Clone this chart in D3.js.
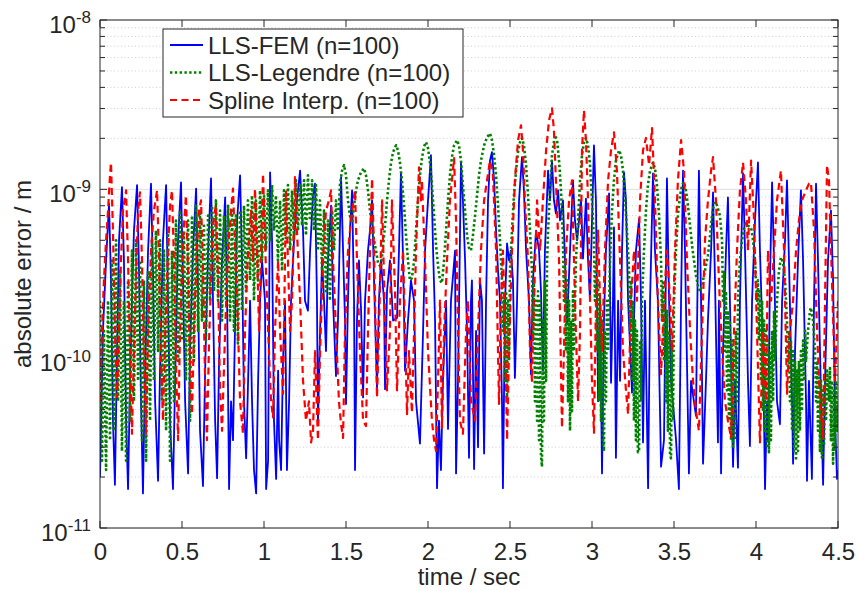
<!DOCTYPE html>
<html><head><meta charset="utf-8">
<script src="https://cdn.jsdelivr.net/npm/d3@7/dist/d3.min.js"></script>
<style>
html,body{margin:0;padding:0;background:#fff;}
text{font-family:"Liberation Sans",Arial,Helvetica,sans-serif;fill:#262626;}
</style></head>
<body><svg id="chart" width="858" height="591"></svg>
<script>
// ---- DATA (time in s, error in units of 1e-10 m) ----
const UNIT = 1e-10;
const seriesNames = ["LLS-FEM (n=100)", "LLS-Legendre (n=100)", "Spline Interp. (n=100)"];
const xTicks = [0, 0.5, 1, 1.5, 2, 2.5, 3, 3.5, 4, 4.5];
const xTickLabels = ["0", "0.5", "1", "1.5", "2", "2.5", "3", "3.5", "4", "4.5"];
const yTicks = [1e-11, 1e-10, 1e-9, 1e-8];
const yTickExponents = ["-11", "-10", "-9", "-8"];

const femData = [
[0,0.2],[0.018,1.46],[0.037,3.8],[0.055,8.25],[0.067,2.9],[0.079,0.43],[0.091,0.18],[0.104,1.11],[0.116,5.0],[0.134,10.3],
[0.146,3.8],[0.159,0.43],[0.171,0.17],[0.183,0.74],[0.195,2.2],[0.207,5.7],[0.226,10.6],[0.238,3.3],[0.250,0.56],[0.262,0.16],
[0.274,0.74],[0.293,4.35],[0.311,10.8],[0.323,3.3],[0.336,0.56],[0.354,0.19],[0.366,0.85],[0.384,5.0],[0.403,10.6],[0.415,2.2],
[0.427,0.43],[0.445,0.17],[0.458,0.74],[0.476,5.0],[0.494,11.0],[0.506,2.9],[0.519,0.56],[0.537,0.21],[0.549,1.11],[0.567,4.35],
[0.586,10.1],[0.598,2.5],[0.610,0.375],[0.628,0.177],[0.641,0.85],[0.659,4.35],[0.677,11.6],[0.689,2.2],[0.702,0.43],[0.714,0.197],
[0.726,0.97],[0.744,3.8],[0.763,8.95],[0.775,2.2],[0.787,0.17],[0.799,0.56],[0.811,0.33],[0.824,1.68],[0.836,6.55],[0.854,12.1],
[0.866,3.8],[0.878,0.56],[0.891,0.258],[0.903,0.74],[0.915,2.2],[0.927,0.56],[0.939,0.22],[0.952,0.16],[0.964,0.74],[0.976,2.2],
[0.988,3.8],[1.006,2.2],[1.013,0.17],[1.025,0.25],[1.037,12.6],[1.049,5.0],[1.061,0.43],[1.074,0.195],[1.086,0.85],[1.092,0.33],
[1.104,0.22],[1.116,0.97],[1.128,2.2],[1.140,0.22],[1.153,0.56],[1.165,2.2],[1.183,5.0],[1.201,8.6],[1.220,12.9],[1.238,5.7],
[1.250,2.2],[1.268,1.92],[1.281,4.35],[1.299,9.2],[1.311,10.8],[1.323,2.2],[1.329,0.42],[1.342,1.46],[1.354,3.8],[1.366,2.2],
[1.378,1.11],[1.390,3.8],[1.409,8.0],[1.421,2.2],[1.439,0.79],[1.451,1.68],[1.470,11.8],[1.482,4.35],[1.494,1.68],[1.500,0.54],
[1.512,2.2],[1.524,5.7],[1.537,9.86],[1.549,2.2],[1.555,0.22],[1.567,1.68],[1.579,3.8],[1.592,1.92],[1.604,0.59],[1.616,2.2],
[1.634,4.35],[1.646,5.7],[1.659,8.6],[1.671,2.9],[1.689,0.67],[1.701,2.2],[1.713,3.8],[1.732,2.2],[1.738,0.66],[1.750,2.5],
[1.768,3.8],[1.787,1.68],[1.811,1.74],[1.823,4.35],[1.835,12.6],[1.848,3.8],[1.860,0.85],[1.878,1.68],[1.896,2.9],[1.915,2.2],
[1.927,0.56],[1.951,0.315],[1.970,1.46],[1.982,4.35],[2.000,8.6],[2.018,15.9],[2.031,4.35],[2.043,1.68],[2.055,0.172],[2.067,0.43],
[2.079,0.22],[2.091,0.74],[2.110,2.2],[2.122,0.385],[2.140,2.2],[2.165,4.35],[2.171,0.21],[2.183,0.74],[2.201,14.4],[2.213,8.6],
[2.226,3.8],[2.238,1.46],[2.250,0.26],[2.262,2.2],[2.268,2.9],[2.281,0.223],[2.293,1.46],[2.305,0.3],[2.317,2.9],[2.329,2.2],
[2.342,0.275],[2.354,2.2],[2.366,8.6],[2.378,14.8],[2.390,16.6],[2.403,11.3],[2.415,5.7],[2.427,3.3],[2.439,2.2],[2.451,0.56],
[2.457,0.172],[2.470,2.2],[2.482,4.8],[2.494,3.8],[2.506,4.35],[2.518,2.9],[2.530,0.77],[2.543,2.2],[2.555,8.6],[2.573,15.5],
[2.585,9.86],[2.598,4.35],[2.616,2.2],[2.628,0.81],[2.640,2.9],[2.659,5.7],[2.677,4.35],[2.689,2.5],[2.701,0.85],[2.713,4.35],
[2.732,12.9],[2.744,8.6],[2.756,14.8],[2.768,8.6],[2.780,7.2],[2.793,9.86],[2.805,6.55],[2.823,8.6],[2.848,1.61],[2.866,4.35],
[2.884,11.3],[2.896,6.55],[2.909,5.0],[2.933,8.6],[2.945,3.9],[2.963,8.8],[2.976,3.8],[2.988,2.2],[3.000,6.55],[3.012,18.2],
[3.024,8.6],[3.037,0.56],[3.049,2.2],[3.061,0.21],[3.073,1.68],[3.085,4.35],[3.104,9.45],[3.116,0.72],[3.128,2.2],[3.134,5.95],
[3.146,0.26],[3.159,2.2],[3.171,0.74],[3.183,4.35],[3.195,12.6],[3.207,8.6],[3.220,2.2],[3.244,0.63],[3.256,1.68],[3.268,4.35],
[3.287,6.7],[3.299,2.2],[3.311,0.32],[3.323,2.2],[3.342,0.172],[3.354,2.2],[3.372,12.4],[3.384,4.35],[3.402,2.2],[3.421,0.23],
[3.439,0.33],[3.457,11.6],[3.470,2.2],[3.482,0.74],[3.512,0.335],[3.530,0.17],[3.543,2.2],[3.555,12.9],[3.567,4.35],[3.591,0.21],
[3.604,0.74],[3.634,0.46],[3.652,12.9],[3.665,2.2],[3.677,0.24],[3.695,0.74],[3.707,1.68],[3.726,4.35],[3.738,9.6],[3.750,2.9],
[3.768,0.32],[3.774,2.2],[3.787,0.21],[3.799,1.11],[3.817,4.35],[3.829,8.95],[3.841,2.2],[3.860,0.23],[3.872,0.74],[3.890,0.227],
[3.902,2.2],[3.921,12.4],[3.933,4.35],[3.951,0.74],[3.963,0.305],[3.976,2.2],[3.994,6.55],[4.012,14.4],[4.024,4.35],[4.043,1.11],
[4.055,0.17],[4.067,0.56],[4.073,0.33],[4.085,2.9],[4.098,11.0],[4.110,3.8],[4.128,0.56],[4.146,0.41],[4.159,2.2],[4.177,5.0],
[4.189,11.3],[4.201,3.8],[4.220,0.56],[4.226,0.24],[4.238,1.11],[4.256,3.8],[4.274,9.86],[4.287,3.8],[4.305,0.56],[4.311,0.19],
[4.323,0.74],[4.341,0.195],[4.354,2.2],[4.366,10.8],[4.378,3.8],[4.397,0.56],[4.409,0.18],[4.421,0.74],[4.439,3.8],[4.457,7.5],
[4.470,2.9],[4.482,0.43],[4.494,0.195],[4.5,0.22]
];

const legendreData = [
[0,2.2],[0.012,0.25],[0.024,1.46],[0.037,0.22],[0.049,2.2],[0.061,0.33],[0.073,3.8],[0.085,0.375],[0.098,5.0],[0.110,0.56],
[0.122,3.3],[0.134,0.285],[0.146,2.2],[0.159,0.25],[0.171,2.9],[0.183,0.43],[0.195,4.35],[0.207,0.56],[0.220,5.0],[0.232,0.74],
[0.244,3.8],[0.256,0.33],[0.268,2.9],[0.281,0.25],[0.293,3.3],[0.305,0.43],[0.317,5.0],[0.329,0.74],[0.341,5.7],[0.354,1.11],
[0.366,5.0],[0.378,0.56],[0.390,4.35],[0.403,0.375],[0.415,5.7],[0.427,0.25],[0.439,4.35],[0.451,0.56],[0.463,6.55],[0.476,0.97],
[0.488,7.5],[0.500,1.28],[0.512,5.7],[0.524,0.74],[0.537,6.55],[0.549,0.43],[0.561,7.0],[0.573,0.97],[0.585,8.0],[0.598,1.46],
[0.610,7.5],[0.622,1.68],[0.634,6.1],[0.646,1.28],[0.659,7.0],[0.671,2.2],[0.683,8.0],[0.695,2.5],[0.707,8.6],[0.720,2.2],
[0.732,7.5],[0.744,1.68],[0.756,7.0],[0.768,2.2],[0.781,8.0],[0.793,1.68],[0.805,7.5],[0.817,1.46],[0.829,7.0],[0.841,1.23],
[0.854,7.5],[0.866,1.92],[0.878,8.0],[0.890,2.5],[0.902,8.6],[0.915,2.9],[0.927,9.2],[0.939,2.2],[0.951,8.6],[0.963,2.9],
[0.976,9.86],[0.988,3.8],[1.000,9.2],[1.012,4.35],[1.024,9.86],[1.037,5.0],[1.049,10.6],[1.061,5.7],[1.073,9.2],[1.085,3.8],
[1.098,8.6],[1.110,3.3],[1.122,9.86],[1.134,5.0],[1.146,10.6],[1.159,4.35],[1.171,9.86],[1.183,5.0],[1.195,11.3],[1.207,5.7],
[1.220,10.6],[1.232,6.1],[1.244,11.3],[1.256,5.35],[1.268,12.1],[1.280,6.55],[1.293,11.3],[1.305,5.7],[1.317,10.6],[1.329,4.35],
[1.341,8.6],[1.354,3.3],[1.366,7.5],[1.378,2.5],[1.390,6.55],[1.402,2.2],[1.415,7.5],[1.427,4.35],[1.439,8.6],[1.451,5.7],
[1.463,10.6],[1.476,12.9],[1.488,13.9],[1.500,12.1],[1.512,8.6],[1.524,7.0],[1.537,6.3],[1.549,8.0],[1.561,9.86],[1.573,11.3],
[1.591,12.6],[1.610,13.3],[1.622,12.1],[1.634,9.86],[1.646,7.5],[1.659,6.1],[1.671,5.0],[1.683,4.35],[1.695,3.7],[1.713,3.45],
[1.726,4.67],[1.738,6.1],[1.750,8.6],[1.762,11.3],[1.774,14.2],[1.787,16.6],[1.805,18.2],[1.817,17.0],[1.829,14.4],[1.841,11.3],
[1.854,8.0],[1.866,5.35],[1.878,3.8],[1.890,2.9],[1.902,3.0],[1.915,3.8],[1.927,5.7],[1.939,8.6],[1.951,12.1],[1.963,15.3],
[1.976,17.9],[1.988,19.0],[2.000,17.5],[2.012,14.4],[2.024,10.6],[2.037,7.0],[2.049,4.67],[2.061,3.55],[2.073,2.9],[2.085,2.8],
[2.098,3.8],[2.110,5.7],[2.122,8.6],[2.134,12.1],[2.146,15.5],[2.159,18.2],[2.177,19.5],[2.189,18.2],[2.201,14.8],[2.213,10.6],
[2.226,7.5],[2.238,5.35],[2.250,4.5],[2.262,4.35],[2.274,5.35],[2.287,7.0],[2.299,9.2],[2.311,12.1],[2.323,14.8],[2.342,18.2],
[2.360,20.3],[2.378,21.4],[2.390,19.5],[2.403,15.9],[2.415,12.1],[2.427,8.0],[2.439,5.0],[2.451,2.9],[2.457,1.46],[2.463,2.2],
[2.470,0.74],[2.476,2.5],[2.482,0.59],[2.488,2.2],[2.494,0.97],[2.500,3.3],[2.512,5.7],[2.524,9.2],[2.537,12.9],[2.549,16.6],
[2.561,19.0],[2.573,20.1],[2.585,18.2],[2.598,13.9],[2.610,9.2],[2.622,5.7],[2.634,3.3],[2.640,1.28],[2.646,2.9],[2.652,0.56],
[2.659,2.2],[2.665,0.43],[2.671,2.5],[2.677,0.33],[2.683,2.2],[2.689,0.27],[2.695,0.23],[2.701,1.68],[2.707,0.43],[2.713,2.9],
[2.720,0.74],[2.726,3.8],[2.732,5.7],[2.744,9.86],[2.756,15.9],[2.774,20.9],[2.787,19.5],[2.799,14.8],[2.811,9.86],[2.823,5.0],
[2.829,2.2],[2.835,3.8],[2.841,1.11],[2.848,2.9],[2.854,0.56],[2.860,2.2],[2.866,0.375],[2.872,1.68],[2.878,0.49],[2.884,2.5],
[2.890,1.11],[2.902,3.8],[2.915,6.55],[2.927,11.3],[2.939,15.9],[2.951,19.0],[2.963,20.1],[2.976,18.2],[2.988,13.9],[3.000,8.6],
[3.012,5.0],[3.018,2.2],[3.024,3.8],[3.030,1.11],[3.037,2.9],[3.043,0.56],[3.049,2.2],[3.055,0.43],[3.061,1.68],[3.067,0.33],
[3.073,0.285],[3.079,1.46],[3.085,0.56],[3.091,2.2],[3.098,1.11],[3.110,3.8],[3.122,7.5],[3.134,11.3],[3.146,14.8],[3.165,17.0],
[3.177,15.9],[3.189,12.9],[3.201,9.2],[3.213,5.7],[3.226,3.3],[3.232,1.46],[3.238,2.9],[3.244,0.74],[3.250,2.2],[3.256,0.43],
[3.262,1.68],[3.268,0.33],[3.274,1.46],[3.280,0.28],[3.287,0.285],[3.293,1.28],[3.299,0.56],[3.305,2.2],[3.317,4.35],[3.329,7.5],
[3.341,10.6],[3.354,12.9],[3.372,14.4],[3.384,13.3],[3.396,10.6],[3.409,7.0],[3.421,3.8],[3.427,1.68],[3.433,2.9],[3.439,0.97],
[3.445,2.2],[3.451,0.56],[3.457,1.92],[3.463,0.375],[3.470,1.46],[3.476,0.27],[3.482,0.258],[3.488,1.28],[3.494,0.43],[3.500,2.2],
[3.512,4.35],[3.524,7.0],[3.537,9.2],[3.549,10.6],[3.561,11.0],[3.573,9.86],[3.585,8.0],[3.598,6.1],[3.610,4.67],[3.622,3.8],
[3.634,3.1],[3.646,2.7],[3.659,2.5],[3.671,2.7],[3.683,3.1],[3.695,3.55],[3.707,4.07],[3.720,5.35],[3.732,7.0],[3.744,8.25],
[3.756,8.4],[3.768,7.7],[3.780,7.0],[3.793,5.0],[3.799,2.2],[3.805,3.3],[3.811,1.11],[3.817,2.5],[3.823,0.65],[3.829,1.92],
[3.835,0.43],[3.841,1.68],[3.848,0.33],[3.854,1.28],[3.860,0.295],[3.866,1.11],[3.872,0.33],[3.878,1.46],[3.884,0.56],[3.890,2.2],
[3.902,3.8],[3.915,5.0],[3.927,5.9],[3.939,6.3],[3.951,6.1],[3.970,5.95],[3.982,5.0],[3.994,3.8],[4.006,2.2],[4.012,2.9],
[4.018,1.28],[4.024,2.5],[4.030,0.74],[4.037,2.2],[4.043,0.49],[4.049,1.68],[4.055,0.375],[4.061,1.46],[4.067,0.305],[4.073,1.28],
[4.079,0.28],[4.085,1.11],[4.091,0.33],[4.098,1.46],[4.104,0.56],[4.110,1.92],[4.116,0.97],[4.128,2.2],[4.140,3.3],[4.152,3.96],
[4.165,3.7],[4.177,2.9],[4.189,1.68],[4.195,0.85],[4.201,1.46],[4.207,0.56],[4.213,1.28],[4.220,0.375],[4.226,1.11],[4.232,0.285],
[4.238,0.97],[4.244,0.25],[4.250,0.85],[4.256,0.285],[4.262,0.97],[4.268,0.375],[4.274,1.11],[4.280,0.49],[4.287,1.28],[4.293,0.74],
[4.299,1.46],[4.305,0.97],[4.317,1.46],[4.329,1.92],[4.335,2.0],[4.348,1.68],[4.360,1.11],[4.366,0.56],[4.372,0.97],[4.378,0.375],
[4.384,0.85],[4.390,0.285],[4.396,0.74],[4.402,0.26],[4.409,0.65],[4.415,0.305],[4.421,0.74],[4.427,0.43],[4.433,0.85],[4.445,0.56],
[4.451,0.88],[4.457,0.33],[4.463,0.74],[4.470,0.24],[4.476,0.65],[4.482,0.285],[4.488,0.74],[4.494,0.375],[4.5,0.56]
];

const splineData = [
[0,0.56],[0.012,1.46],[0.024,2.9],[0.037,5.0],[0.049,7.5],[0.061,12.1],[0.067,14.4],[0.079,5.7],[0.091,1.46],[0.104,0.59],
[0.116,1.46],[0.128,3.8],[0.140,7.5],[0.159,9.86],[0.171,3.8],[0.183,1.11],[0.195,0.36],[0.207,1.11],[0.220,3.3],[0.232,7.5],
[0.244,9.6],[0.256,3.8],[0.268,0.97],[0.281,0.36],[0.293,1.46],[0.311,4.35],[0.329,7.5],[0.348,9.86],[0.360,3.8],[0.372,0.97],
[0.384,0.43],[0.396,1.28],[0.415,4.35],[0.427,8.0],[0.439,9.86],[0.451,3.8],[0.463,0.97],[0.476,0.33],[0.488,1.46],[0.506,5.0],
[0.524,9.2],[0.537,3.3],[0.549,0.85],[0.561,0.47],[0.573,1.46],[0.591,4.35],[0.604,7.5],[0.616,8.6],[0.628,3.3],[0.641,0.74],
[0.652,0.33],[0.665,1.28],[0.683,4.35],[0.695,7.0],[0.707,8.0],[0.720,2.9],[0.732,0.65],[0.744,0.375],[0.763,1.46],[0.781,4.35],
[0.799,7.5],[0.811,10.1],[0.824,4.35],[0.842,1.46],[0.854,0.56],[0.872,0.36],[0.884,1.46],[0.903,4.35],[0.921,7.5],[0.933,3.8],
[0.945,10.1],[0.957,4.35],[0.970,1.46],[0.982,4.35],[0.994,12.4],[1.006,5.0],[1.025,1.46],[1.043,0.56],[1.055,0.45],[1.067,1.46],
[1.086,3.8],[1.098,1.46],[1.116,0.62],[1.128,3.8],[1.134,9.86],[1.146,3.8],[1.159,1.46],[1.171,2.2],[1.189,11.8],[1.201,5.7],
[1.220,2.2],[1.238,0.74],[1.256,0.43],[1.274,0.56],[1.287,0.32],[1.299,0.375],[1.311,1.11],[1.329,0.33],[1.342,1.11],[1.360,3.8],
[1.378,7.5],[1.396,8.6],[1.409,9.86],[1.421,3.8],[1.439,1.46],[1.457,0.56],[1.470,0.41],[1.482,0.34],[1.494,1.46],[1.512,4.35],
[1.537,7.5],[1.555,9.86],[1.567,3.8],[1.585,1.11],[1.604,0.43],[1.622,0.4],[1.634,1.46],[1.646,4.35],[1.659,11.6],[1.671,4.35],
[1.689,0.59],[1.701,1.46],[1.720,8.6],[1.732,2.9],[1.750,0.65],[1.768,1.46],[1.780,8.6],[1.799,2.5],[1.811,0.65],[1.829,2.2],
[1.848,4.35],[1.860,1.46],[1.872,0.47],[1.884,1.11],[1.902,0.48],[1.915,1.46],[1.927,4.35],[1.945,13.5],[1.957,8.6],[1.963,11.3],
[1.982,3.8],[2.000,1.11],[2.024,0.43],[2.037,0.33],[2.049,0.285],[2.061,0.74],[2.073,2.2],[2.085,0.39],[2.098,1.46],[2.116,3.8],
[2.134,8.6],[2.159,15.3],[2.171,6.55],[2.183,1.46],[2.195,0.43],[2.213,0.36],[2.232,1.46],[2.244,2.2],[2.262,0.56],[2.287,0.43],
[2.305,1.46],[2.323,4.35],[2.342,8.6],[2.360,11.3],[2.378,14.8],[2.396,12.1],[2.415,4.35],[2.433,0.54],[2.445,2.2],[2.457,4.35],
[2.470,1.46],[2.482,0.33],[2.494,1.11],[2.512,4.35],[2.530,11.3],[2.549,19.5],[2.567,23.9],[2.579,17.0],[2.591,8.6],[2.610,3.8],
[2.622,1.11],[2.634,0.74],[2.646,2.2],[2.665,8.6],[2.683,4.35],[2.701,8.6],[2.720,17.0],[2.738,25.6],[2.756,30.1],[2.768,22.3],
[2.780,11.3],[2.799,3.8],[2.817,0.39],[2.829,1.11],[2.842,4.35],[2.860,8.6],[2.878,11.3],[2.896,2.2],[2.915,0.56],[2.927,1.46],
[2.939,17.0],[2.951,29.3],[2.963,19.5],[2.976,8.6],[2.988,2.2],[3.000,0.74],[3.012,0.365],[3.024,2.2],[3.037,5.7],[3.049,2.2],
[3.061,1.11],[3.079,4.35],[3.098,11.3],[3.116,17.0],[3.134,21.7],[3.152,12.9],[3.171,3.8],[3.189,1.11],[3.207,0.65],[3.220,0.47],
[3.238,2.2],[3.256,4.35],[3.274,2.2],[3.293,8.6],[3.311,17.0],[3.329,20.1],[3.348,13.9],[3.366,23.0],[3.384,8.6],[3.402,2.2],
[3.421,0.81],[3.439,2.2],[3.457,4.35],[3.476,2.2],[3.488,1.11],[3.506,4.35],[3.524,11.3],[3.543,19.5],[3.561,12.9],[3.579,3.8],
[3.598,1.46],[3.616,0.74],[3.634,0.49],[3.652,0.375],[3.671,1.46],[3.689,5.0],[3.707,8.6],[3.726,12.9],[3.738,15.5],[3.756,8.6],
[3.774,2.9],[3.793,1.11],[3.811,0.56],[3.829,0.43],[3.848,0.34],[3.866,1.46],[3.884,4.35],[3.902,9.86],[3.921,14.4],[3.939,8.6],
[3.951,4.35],[3.970,14.8],[3.988,6.55],[4.006,1.46],[4.024,0.32],[4.043,1.46],[4.061,0.56],[4.073,4.35],[4.092,2.2],[4.110,4.35],
[4.128,8.6],[4.152,12.9],[4.171,4.35],[4.189,0.62],[4.207,1.46],[4.226,2.2],[4.244,4.35],[4.262,6.55],[4.280,8.6],[4.305,9.86],
[4.323,10.8],[4.335,11.0],[4.354,5.7],[4.372,1.46],[4.390,0.56],[4.409,0.34],[4.421,2.2],[4.433,13.9],[4.445,11.3],[4.463,2.9],
[4.482,0.74],[4.5,2.2]
];

// ---- LAYOUT ----
const W = 858, H = 591;
const L = 100, R = 838, T = 20, B = 528;
const svg = d3.select("#chart");
const x = d3.scaleLinear().domain([0, 4.5]).range([L, R]);
const y = d3.scaleLog().domain([1e-11, 1e-8]).range([B, T]);
const axisColor = "#262626";

// grid (y major + minor)
const minorVals = [];
[1e-11, 1e-10, 1e-9].forEach(dec => { for (let k = 2; k <= 9; k++) minorVals.push(k * dec); });
const grid = svg.append("g");
grid.selectAll("line.minor").data(minorVals).enter().append("line")
  .attr("x1", L).attr("x2", R).attr("y1", d => y(d)).attr("y2", d => y(d))
  .attr("stroke", "#c4c4c4").attr("stroke-width", 0.8).attr("stroke-dasharray", "1,2.5");
grid.selectAll("line.major").data(yTicks).enter().append("line")
  .attr("x1", L).attr("x2", R).attr("y1", d => y(d)).attr("y2", d => y(d))
  .attr("stroke", "#dedede").attr("stroke-width", 1);

// clip
svg.append("clipPath").attr("id", "clip").append("rect")
  .attr("x", L).attr("y", T).attr("width", R - L).attr("height", B - T);

const line = d3.line().x(d => x(d[0])).y(d => y(d[1] * UNIT));
const plot = svg.append("g").attr("clip-path", "url(#clip)");
const styles = [
  {data: femData, color: "#0000ff", width: 1.8, dash: null},
  {data: legendreData, color: "#008000", width: 2.6, dash: "2.4,2.4"},
  {data: splineData, color: "#ff0000", width: 2.2, dash: "7,4.5"}
];
styles.forEach(s => {
  plot.append("path").datum(s.data).attr("d", line)
    .attr("fill", "none").attr("stroke", s.color).attr("stroke-width", s.width)
    .attr("stroke-linejoin", "round")
    .attr("stroke-dasharray", s.dash);
});

// axes
const fontSize = 24;
const gx = svg.append("g").attr("transform", `translate(0,${B})`)
  .call(d3.axisBottom(x).tickValues(xTicks).tickSize(0).tickPadding(15)
    .tickFormat((d, i) => xTickLabels[i]));
gx.select(".domain").remove();
gx.selectAll("text").attr("font-size", fontSize).attr("fill", axisColor)
  .attr("font-family", "Liberation Sans, Arial, sans-serif");

const gy = svg.append("g").attr("transform", `translate(${L},0)`)
  .call(d3.axisLeft(y).tickValues(yTicks).tickSize(0).tickPadding(9).tickFormat(() => ""));
gy.select(".domain").remove();
gy.selectAll(".tick text").each(function(d, i) {
  const t = d3.select(this).attr("font-size", fontSize).attr("fill", axisColor)
    .attr("dy", "0.5em").attr("font-family", "Liberation Sans, Arial, sans-serif");
  t.append("tspan").text("10");
  t.append("tspan").attr("dy", "-0.55em").attr("font-size", 17).text(yTickExponents[i]);
});

// ticks (inside) on all four sides
const tk = svg.append("g").attr("stroke", axisColor).attr("stroke-width", 1);
xTicks.forEach(v => {
  tk.append("line").attr("x1", x(v)).attr("x2", x(v)).attr("y1", B).attr("y2", B - 7);
  tk.append("line").attr("x1", x(v)).attr("x2", x(v)).attr("y1", T).attr("y2", T + 7);
});
yTicks.forEach(v => {
  tk.append("line").attr("x1", L).attr("x2", L + 7).attr("y1", y(v)).attr("y2", y(v));
  tk.append("line").attr("x1", R).attr("x2", R - 7).attr("y1", y(v)).attr("y2", y(v));
});
minorVals.forEach(v => {
  tk.append("line").attr("x1", L).attr("x2", L + 5).attr("y1", y(v)).attr("y2", y(v));
  tk.append("line").attr("x1", R).attr("x2", R - 5).attr("y1", y(v)).attr("y2", y(v));
});
svg.append("rect").attr("x", L).attr("y", T).attr("width", R - L).attr("height", B - T)
  .attr("fill", "none").attr("stroke", axisColor).attr("stroke-width", 1);

// axis labels
svg.append("text").attr("x", (L + R) / 2).attr("y", 585).attr("text-anchor", "middle")
  .attr("font-size", fontSize).text("time / sec");
svg.append("text").attr("transform", `translate(31,${(T + B) / 2}) rotate(-90)`)
  .attr("text-anchor", "middle").attr("font-size", fontSize).text("absolute error / m");

// legend
const lg = svg.append("g");
lg.append("rect").attr("x", 163).attr("y", 29).attr("width", 300).attr("height", 88)
  .attr("fill", "#fff").attr("stroke", axisColor).attr("stroke-width", 1);
styles.forEach((s, i) => {
  const yy = 45 + i * 27.5;
  lg.append("line").attr("x1", 170).attr("x2", 203).attr("y1", yy).attr("y2", yy)
    .attr("stroke", s.color).attr("stroke-width", s.width).attr("stroke-dasharray", s.dash);
  lg.append("text").attr("x", 208).attr("y", yy).attr("dy", "0.36em")
    .attr("font-size", fontSize).text(seriesNames[i]);
});
</script></body></html>
